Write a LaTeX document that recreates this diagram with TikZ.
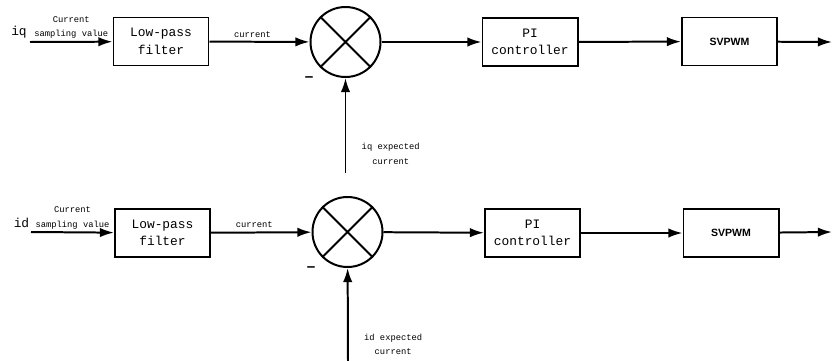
\documentclass[tikz,border=0pt]{standalone}
\usepackage{fontspec}
\setmainfont{Liberation Sans}
\newfontfamily\blocofonte{Liberation Mono}
\usetikzlibrary{arrows.meta}

\tikzset{
  bloco/.style={draw,minimum width=2.85cm,minimum height=1.44cm,inner sep=0pt,align=center,
    font=\blocofonte\fontsize{11}{15}\selectfont},
  somador/.style={draw,circle,minimum size=2.1cm,inner sep=0pt},
  rotulo/.style={font=\blocofonte\fontsize{7.5}{12.5}\selectfont,align=center,inner sep=1pt},
  sinal/.style={font=\blocofonte\fontsize{11}{12}\selectfont,inner sep=0pt},
  menos/.style={font=\bfseries\fontsize{13}{14}\selectfont,inner sep=0pt},
}

\begin{document}
\begin{tikzpicture}[x=0.03cm,y=-0.03cm,>={Latex[length=12pt,width=8pt]},line width=1.7pt]
	\useasboundingbox (0,0) rectangle (832,361);
	% malha iq
	\node[sinal] (iq) at (19,32) {iq};
	\coordinate (inq) at (30,42);
	\node[bloco] (fpbq) at (161,41.5) {Low-pass\\filter};
	\node[somador] (somq) at (345.5,42) {};
	\draw (somq.45) -- (somq.225) (somq.135) -- (somq.315);
	\node[menos] (menosq) at (309,79) {\textendash};
	\node[bloco] (piq) at (530,42) {PI\\controller};
	\node[bloco,font=\bfseries\fontsize{9}{10}\selectfont] (svq) at (729.5,41.5) {SVPWM};
	\coordinate (saiq) at (832,42);
	\coordinate (refq) at (345.5,173);
	% ligacoes iq
	\draw[->] (inq) -- node[rotulo,above,yshift=1pt] {Current\\sampling value} (fpbq);
	\draw[->] (fpbq) -- node[rotulo,above,xshift=-6pt,yshift=2pt] {current} (somq);
	\draw[->] (somq) -- (piq);
	\draw[->] (piq) -- (svq);
	\draw[->] (svq) -- (saiq);
	\draw[->] (refq) -- node[rotulo,pos=0.2,right=12pt] {iq expected\\current} (somq);

	% malha id
	\node[sinal] (id) at (21.5,223) {id};
	\coordinate (ind) at (31,232);
	\node[bloco] (fpbd) at (162.5,233) {Low-pass\\filter};
	\node[somador] (somd) at (347.5,232) {};
	\draw (somd.45) -- (somd.225) (somd.135) -- (somd.315);
	\node[menos] (menosd) at (311,269) {\textendash};
	\node[bloco] (pid) at (532.5,233) {PI\\controller};
	\node[bloco,font=\bfseries\fontsize{9}{10}\selectfont] (svd) at (731,233) {SVPWM};
	\coordinate (said) at (832,232);
	\coordinate (refd) at (348,361);
	% ligacoes id
	\draw[->] (ind) -- node[rotulo,above,yshift=1pt] {Current\\sampling value} (fpbd);
	\draw[->] (fpbd) -- node[rotulo,above,xshift=-6pt,yshift=2pt] {current} (somd);
	\draw[->] (somd) -- (pid);
	\draw[->] (pid) -- (svd);
	\draw[->] (svd) -- (said);
	\draw[->] (refd) -- node[rotulo,pos=0.18,right=12pt] {id expected\\current} (somd);
\end{tikzpicture}
\end{document}
